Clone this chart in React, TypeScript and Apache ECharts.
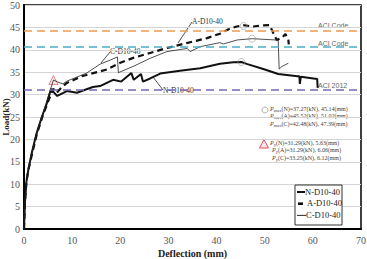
import React, { useEffect, useRef } from "react";
import * as echarts from "echarts";

const xTicks = [0, 10, 20, 30, 40, 50, 60, 70];

const nDefl = [0, 0.2, 0.5, 0.9, 1.6, 2.6, 3.7, 4.7, 5.63, 6.2, 6.9, 8.9, 11, 13, 14.3, 15.8, 18.5, 20.2, 22.3, 22.8, 24.3, 24.7, 26.2, 28.3, 32.4, 36.6, 40.7, 43.5, 45.14, 46.4, 49.7, 52.8, 56.8, 57.2, 57.3, 57.5, 60.9, 61.0];
const nLoad = [0, 6, 10.5, 13.2, 16.9, 21.3, 25, 27.9, 31.29, 30.5, 29.7, 30.8, 30.4, 31.2, 31.7, 31.9, 33.3, 32.9, 34.8, 33.3, 34.6, 32.9, 33.6, 34.7, 35.3, 35.9, 36.9, 37.2, 37.27, 36.8, 35.7, 34.6, 34.1, 34.1, 32.4, 34.0, 33.5, 31.5];

const aDefl = [0, 0.2, 0.5, 0.9, 1.7, 2.7, 3.8, 4.9, 6.06, 6.8, 7.8, 8.9, 12, 15.8, 17.2, 20, 22.7, 26.2, 29.7, 33.8, 38, 40.7, 42.5, 44.2, 45.5, 47.6, 49, 51.02, 51.8, 52.5, 53.6, 54.3, 54.9, 55.0];
const aLoad = [0, 6, 10.5, 13.2, 16.9, 21.3, 25, 28.2, 31.29, 30.4, 31.6, 32.6, 34.1, 35.2, 35.6, 37.1, 38.2, 39.3, 40.4, 41.5, 42.6, 43.6, 44.6, 45.2, 45.5, 45.2, 45.4, 45.52, 43.7, 42.2, 42.7, 43.5, 42.3, 41.2];

const cDefl = [0, 0.2, 0.5, 0.9, 1.6, 2.6, 3.7, 4.8, 6.12, 7.0, 8.1, 8.9, 13, 15.8, 17.9, 19.4, 19.6, 22.7, 26.2, 29.7, 33.9, 34.5, 36.6, 40.7, 41.4, 44.3, 47.39, 52.2, 52.8, 53.0, 53.6, 54.9];
const cLoad = [0, 6, 10.5, 13.2, 16.9, 21.3, 25, 28.8, 33.25, 32.8, 32.4, 33.0, 34.8, 36.8, 37.7, 38.4, 34.9, 36.3, 38.1, 39.6, 40.3, 39.6, 40.7, 41.6, 41.3, 42.2, 42.48, 42.2, 42.2, 35.7, 36.3, 37.0];

const maxDefl = [45.14, 45.6, 47.39];
const maxLoad = [37.27, 45.3, 42.48];
const yieldDefl = [5.63, 6.06, 6.12];
const yieldLoad = [31.29, 31.29, 33.25];

const aciLoads = [44.3, 40.6, 31.0];
const aciNames = ["ACI Code", "ACI Code", "ACI 2012"];
const aciColors = ["#ee9a4f", "#4aafc4", "#7766b4"];

const seriesNames = ["N-D10-40", "A-D10-40", "C-D10-40"];

const maxLabels = [
  "(N)=37.27(kN), 45.14(mm)",
  "(A)=45.52(kN), 51.02(mm)",
  "(C)=42.48(kN), 47.39(mm)",
];
const yieldLabels = [
  "(N)=31.29(kN), 5.63(mm)",
  "(A)=31.29(kN), 6.06(mm)",
  "(C)=33.25(kN), 6.12(mm)",
];

const zip = (xs: number[], ys: number[]) => xs.map((x, i) => [x, ys[i]]);

const SERIF = "Liberation Serif";

export default function App() {
  const ref = useRef<HTMLDivElement>(null);
  useEffect(() => {
    if (!ref.current) return;
    const chart = echarts.init(ref.current, undefined, { renderer: "svg" });
    const rich = {
      p: { fontFamily: SERIF, fontSize: 6, fontStyle: "italic", fill: "#444" },
      s: { fontFamily: SERIF, fontSize: 4.5, fill: "#444", padding: [3, 0, 0, 0] },
      t: { fontFamily: SERIF, fontSize: 6, fill: "#444" },
    };
    const graphic: any[] = [];
    maxLabels.forEach((l, i) => {
      graphic.push({
        type: "text",
        left: 270,
        top: 106 + i * 7.3,
        style: { text: `{p|P}{s|max}{t|${l}}`, rich },
      });
    });
    yieldLabels.forEach((l, i) => {
      graphic.push({
        type: "text",
        left: i === 0 ? 270 : 272,
        top: 140 + i * 7.3,
        style: { text: `{p|P}{s|y}{t|${l}}`, rich },
      });
    });
    graphic.push({ type: "circle", shape: { cx: 265, cy: 110, r: 3 }, style: { fill: "none", stroke: "#999", lineWidth: 0.8 } });
    graphic.push({
      type: "polygon",
      shape: { points: [[264, 139.5], [259.5, 148], [268.5, 148]] },
      style: { fill: "rgba(240,150,160,0.25)", stroke: "#e0505f", lineWidth: 1 },
    });
    // ACI labels
    const aciTops = [22, 40, 82];
    aciNames.forEach((n, i) => {
      graphic.push({
        type: "text",
        left: 318,
        top: aciTops[i],
        style: { text: n, fontFamily: "Liberation Sans", fontSize: 7, fill: "#666" },
      });
    });
    // curve labels with leaders
    const curveLabels = [
      { t: "A-D10-40", x: 192, y: 17, lx1: 192, ly1: 22, lx2: 178, ly2: 43 },
      { t: "C-D10-40", x: 110, y: 47, lx1: 110, ly1: 52, lx2: 101, ly2: 63 },
      { t: "N-D10-40", x: 163, y: 86, lx1: 163, ly1: 90, lx2: 153, ly2: 77 },
    ];
    curveLabels.forEach((c) => {
      graphic.push({
        type: "text",
        left: c.x,
        top: c.y,
        style: { text: c.t, fontFamily: SERIF, fontSize: 7.5, fill: "#333" },
      });
      graphic.push({
        type: "line",
        shape: { x1: c.lx1, y1: c.ly1, x2: c.lx2, y2: c.ly2 },
        style: { stroke: "#222", lineWidth: 0.8 },
      });
    });
    // legend box
    graphic.push({
      type: "rect",
      shape: { x: 295, y: 185, width: 47, height: 40 },
      style: { fill: "#fff", stroke: "#333", lineWidth: 1 },
      z: 10,
    });
    const legendLines = [
      { x1: 297, x2: 305, w: 2, tx: 305 },
      { x1: 298, x2: 303, w: 2.6, tx: 307 },
      { x1: 297, x2: 306, w: 0.9, tx: 306 },
    ];
    seriesNames.forEach((n, i) => {
      const y = 192 + i * 11.7;
      const l = legendLines[i];
      graphic.push({
        type: "line",
        shape: { x1: l.x1, y1: y, x2: l.x2, y2: y },
        style: { stroke: "#111", lineWidth: l.w },
        z: 11,
      });
      graphic.push({
        type: "text",
        left: l.tx,
        top: y - 5,
        style: { text: n, fontFamily: SERIF, fontSize: 8.5, fill: "#222" },
        z: 11,
      });
    });

    chart.setOption({
      animation: false,
      grid: {
        left: 24, right: 6, top: 5, bottom: 30,
        show: true, borderColor: "#000", borderWidth: 1.5,
        outerBoundsMode: "none", containLabel: false,
      },
      xAxis: {
        type: "value",
        min: xTicks[0],
        max: xTicks[xTicks.length - 1],
        interval: 10,
        name: "Deflection (mm)",
        nameLocation: "middle",
        nameGap: 19,
        nameMoveOverlap: false,
        nameTextStyle: { fontFamily: SERIF, fontWeight: "bold", fontSize: 10, color: "#222" },
        axisLine: { lineStyle: { color: "#000", width: 2 } },
        axisTick: { show: false },
        splitLine: { show: false },
        axisLabel: { fontFamily: SERIF, fontSize: 10, color: "#555", margin: 6 },
      },
      yAxis: {
        type: "value",
        min: 0,
        max: 50,
        interval: 5,
        name: "Load(kN)",
        nameLocation: "middle",
        nameGap: 14,
        nameMoveOverlap: false,
        nameTextStyle: { fontFamily: SERIF, fontWeight: "bold", fontSize: 9, color: "#222" },
        axisLine: { show: true, lineStyle: { color: "#000", width: 2 } },
        axisTick: { show: false },
        splitLine: { lineStyle: { color: "#d4d4d4", width: 1 } },
        axisLabel: { fontFamily: SERIF, fontSize: 10, color: "#555", margin: 4 },
      },
      series: [
        {
          name: "aci",
          type: "line",
          data: [],
          silent: true,
          markLine: {
            symbol: "none",
            silent: true,
            label: { show: false },
            data: aciLoads.map((v, i) => ({
              yAxis: v,
              lineStyle: { color: aciColors[i], type: [8, 5], width: 1.5 },
            })),
          },
        },
        {
          name: seriesNames[0],
          type: "line",
          data: zip(nDefl, nLoad),
          symbol: "none",
          lineStyle: { color: "#111", width: 2 },
          z: 3,
        },
        {
          name: seriesNames[1],
          type: "line",
          data: zip(aDefl, aLoad),
          symbol: "none",
          lineStyle: { color: "#111", width: 2.2, type: [6, 4] },
          z: 3,
        },
        {
          name: seriesNames[2],
          type: "line",
          data: zip(cDefl, cLoad),
          symbol: "none",
          lineStyle: { color: "#222", width: 0.8 },
          z: 3,
        },
        {
          name: "max",
          type: "scatter",
          data: zip(maxDefl, maxLoad),
          symbol: "circle",
          symbolSize: 7,
          itemStyle: { color: "rgba(0,0,0,0)", borderColor: "#999", borderWidth: 0.8 },
          z: 4,
        },
        {
          name: "yield",
          type: "scatter",
          data: zip(yieldDefl, yieldLoad).slice(2),
          symbol: "triangle",
          symbolSize: 9,
          itemStyle: { color: "rgba(240,150,160,0.3)", borderColor: "#e0505f", borderWidth: 0.8 },
          z: 2,
        },
      ],
      graphic,
    });
    return () => chart.dispose();
  }, []);
  return <div ref={ref} style={{ width: 367, height: 259, position: "absolute", left: 0, top: 0 }} />;
}
